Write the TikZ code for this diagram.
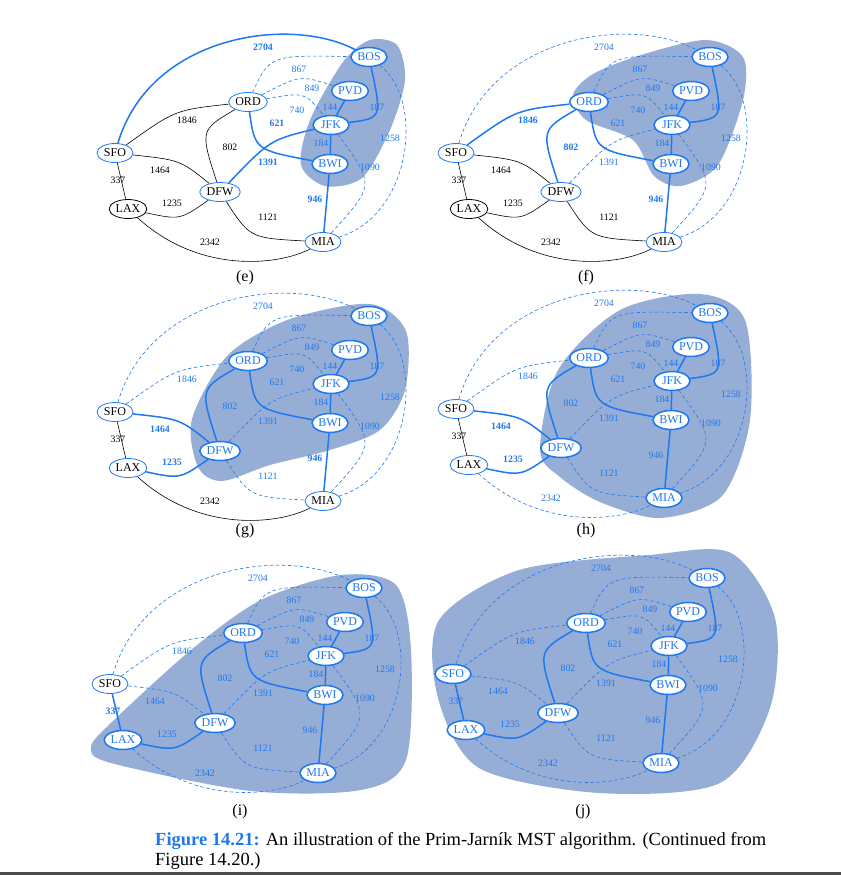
\documentclass[tikz,border=0pt]{standalone}
\usepackage{fontspec}
\setmainfont{Liberation Serif}
\usetikzlibrary{shapes.geometric}
\definecolor{mb}{RGB}{30,120,240}
\definecolor{cl}{RGB}{150,174,214}
\pgfdeclarelayer{back}\pgfdeclarelayer{mid}\pgfsetlayers{back,mid,main}
\tikzset{
 blk/.style={black,line width=0.6pt,every node/.style={text=black,font=\fontsize{9.8}{9.8}\selectfont}},
 tree/.style={mb,line width=1.5pt,every node/.style={text=mb,font=\fontsize{9.8}{9.8}\selectfont}},
 best/.style={mb,line width=1.5pt,every node/.style={text=mb,font=\fontsize{9.8}{9.8}\selectfont\bfseries}},
 dsh/.style={mb,line width=0.6pt,dash pattern=on 3.5pt off 2.5pt,every node/.style={text=mb,font=\fontsize{9.8}{9.8}\selectfont}},
 vb/.style={ellipse,draw,fill=white,inner sep=1pt,minimum width=36pt,minimum height=19pt,font=\fontsize{12}{12}\selectfont},
 nin/.style={vb,draw=mb,line width=1.5pt,text=mb},
 nfr/.style={vb,draw=mb,line width=0.8pt,text=black},
 nout/.style={vb,draw=black,line width=0.8pt,text=black},
 E2704/.style=blk,E1846/.style=blk,E1464/.style=blk,E337/.style=blk,E1235/.style=blk,E2342/.style=blk,
 E802/.style=blk,E1391/.style=blk,E1121/.style=blk,E867/.style=blk,E849/.style=blk,E740/.style=blk,
 E621/.style=blk,E144/.style=blk,E187/.style=blk,E184/.style=blk,E1090/.style=blk,E946/.style=blk,E1258/.style=blk,
 NSFO/.style=nout,NLAX/.style=nout,NDFW/.style=nout,NORD/.style=nout,NBOS/.style=nout,NPVD/.style=nout,NJFK/.style=nout,NBWI/.style=nout,NMIA/.style=nout,
 plab/.style={font=\fontsize{16}{16}\selectfont}
}
\newcommand\Gdraw[3]{%
\node[NSFO] (SFO) at (115,153) {SFO};
\node[NLAX] (LAX) at (128,209) {LAX};
\node[NDFW] (DFW) at (220,192) {DFW};
\node[NORD] (ORD) at (248,102) {ORD};
\node[NBOS] (BOS) at (369,57) {BOS};
\node[NPVD] (PVD) at (350,91) {PVD};
\node[NJFK] (JFK) at (331,125) {JFK};
\node[NBWI] (BWI) at (330,164) {BWI};
\node[NMIA] (MIA) at (323,242) {MIA};
\node[plab] (lab#1) at (245,#3) {(#1)};
\begin{pgfonlayer}{back}#2\end{pgfonlayer}
\begin{pgfonlayer}{mid}
\draw[E2704] (SFO) .. controls (150,35) and (290,15) .. (BOS) (263,47) node{2704};
\draw[E1846] (SFO) .. controls (175,110) .. (ORD) (187,120) node{1846};
\draw[E1464] (SFO) .. controls (180,160) .. (DFW) (160,170) node{1464};
\draw[E337] (SFO) -- (LAX) (118,180) node{337};
\draw[E1235] (LAX) .. controls (180,220) .. (DFW) (172,203) node{1235};
\draw[E2342] (LAX) .. controls (200,275) and (280,265) .. (MIA) (210,242) node{2342};
\draw[E802] (DFW) .. controls (200,130) .. (ORD) (230,147) node{802};
\draw[E1391] (DFW) .. controls (270,140) .. (JFK) (268,162) node{1391};
\draw[E1121] (DFW) .. controls (250,238) .. (MIA) (268,217) node{1121};
\draw[E867] (ORD) .. controls (270,55) .. (BOS) (299,69) node{867};
\draw[E849] (ORD) .. controls (300,75) .. (PVD) (312,88) node{849};
\draw[E740] (ORD) .. controls (305,92) .. (JFK) (297,110) node{740};
\draw[E621] (ORD) .. controls (255,150) .. (BWI) (277,123) node{621};
\draw[E144] (PVD) -- (JFK) (330,107) node{144};
\draw[E187] (BOS) .. controls (382,118) .. (JFK) (377,107) node{187};
\draw[E184] (JFK) -- (BWI) (321,143) node{184};
\draw[E1090] (JFK) .. controls (375,185) .. (MIA) (370,167) node{1090};
\draw[E946] (BWI) -- (MIA) (315,199) node{946};
\draw[E1258] (BOS) .. controls (425,100) and (412,215) .. (MIA) (390,138) node{1258};
\end{pgfonlayer}}
\newcommand\cloud[1]{\fill[cl] plot[smooth cycle] coordinates {#1};}
\begin{document}
\begin{tikzpicture}[x=1pt,y=-1pt]
\useasboundingbox (0,0) rectangle (841,875);
% (e)
\begin{scope}[E2704/.style=best,E621/.style=best,E1391/.style=best,E946/.style=best,
 E144/.style=tree,E187/.style=tree,E184/.style=tree,
 E867/.style=dsh,E849/.style=dsh,E740/.style=dsh,E1090/.style=dsh,E1258/.style=dsh,
 NBOS/.style=nin,NPVD/.style=nin,NJFK/.style=nin,NBWI/.style=nin,
 NSFO/.style=nfr,NORD/.style=nfr,NDFW/.style=nfr,NMIA/.style=nfr]
\Gdraw{e}{\cloud{(397,45) (405,80) (390,130) (362,178) (325,186) (301,165) (310,120) (343,62) (370,40)}}{278}
\end{scope}
% (f)
\begin{scope}[shift={(341,0)},E1846/.style=best,E802/.style=best,E946/.style=best,
 E144/.style=tree,E187/.style=tree,E184/.style=tree,E621/.style=tree,
 E2704/.style=dsh,E867/.style=dsh,E849/.style=dsh,E740/.style=dsh,E1391/.style=dsh,E1090/.style=dsh,E1258/.style=dsh,
 NORD/.style=nin,NBOS/.style=nin,NPVD/.style=nin,NJFK/.style=nin,NBWI/.style=nin,
 NSFO/.style=nfr,NDFW/.style=nfr,NMIA/.style=nfr]
\Gdraw{f}{\cloud{(232,95) (252,74) (300,55) (365,40) (402,57) (402,100) (377,165) (340,186) (313,176) (292,140) (245,120)}}{278}
\end{scope}
% (g)
\begin{scope}[shift={(0,259)},E1464/.style=best,E1235/.style=best,E946/.style=best,
 E144/.style=tree,E187/.style=tree,E184/.style=tree,E621/.style=tree,E802/.style=tree,
 E2704/.style=dsh,E1846/.style=dsh,E867/.style=dsh,E849/.style=dsh,E740/.style=dsh,E1391/.style=dsh,E1090/.style=dsh,E1258/.style=dsh,E1121/.style=dsh,
 NORD/.style=nin,NBOS/.style=nin,NPVD/.style=nin,NJFK/.style=nin,NBWI/.style=nin,NDFW/.style=nin,
 NSFO/.style=nfr,NLAX/.style=nfr,NMIA/.style=nfr]
\Gdraw{g}{\cloud{(198,208) (192,160) (228,96) (290,60) (370,45) (406,72) (405,131) (380,171) (330,191) (270,206) (222,222)}}{272}
\end{scope}
% (h)
\begin{scope}[shift={(341,256)},E1464/.style=best,E1235/.style=best,
 E144/.style=tree,E187/.style=tree,E184/.style=tree,E621/.style=tree,E802/.style=tree,E946/.style=tree,
 E2704/.style=dsh,E1846/.style=dsh,E867/.style=dsh,E849/.style=dsh,E740/.style=dsh,E1391/.style=dsh,E1090/.style=dsh,E1258/.style=dsh,E1121/.style=dsh,E2342/.style=dsh,
 NORD/.style=nin,NBOS/.style=nin,NPVD/.style=nin,NJFK/.style=nin,NBWI/.style=nin,NDFW/.style=nin,NMIA/.style=nin,
 NSFO/.style=nfr,NLAX/.style=nfr]
\Gdraw{h}{\cloud{(199,194) (217,114) (279,54) (359,38) (404,64) (409,164) (381,240) (319,262) (259,246) (219,221)}}{275}
\end{scope}
% (i)
\begin{scope}[shift={(-5,531)},E337/.style=best,
 E144/.style=tree,E187/.style=tree,E184/.style=tree,E621/.style=tree,E802/.style=tree,E946/.style=tree,E1235/.style=tree,
 E2704/.style=dsh,E1846/.style=dsh,E867/.style=dsh,E849/.style=dsh,E740/.style=dsh,E1391/.style=dsh,E1090/.style=dsh,E1258/.style=dsh,E1121/.style=dsh,E2342/.style=dsh,E1464/.style=dsh,
 NORD/.style=nin,NBOS/.style=nin,NPVD/.style=nin,NJFK/.style=nin,NBWI/.style=nin,NDFW/.style=nin,NMIA/.style=nin,NLAX/.style=nin,
 NSFO/.style=nfr]
\Gdraw{i}{\cloud{(96,216) (118,190) (196,119) (266,69) (346,44) (401,54) (416,119) (411,229) (366,259) (256,260) (116,232)}}{281}
\end{scope}
% (j)
\begin{scope}[shift={(338,521)},
 E144/.style=tree,E187/.style=tree,E184/.style=tree,E621/.style=tree,E802/.style=tree,E946/.style=tree,E1235/.style=tree,E337/.style=tree,
 E2704/.style=dsh,E1846/.style=dsh,E867/.style=dsh,E849/.style=dsh,E740/.style=dsh,E1391/.style=dsh,E1090/.style=dsh,E1258/.style=dsh,E1121/.style=dsh,E2342/.style=dsh,E1464/.style=dsh,
 NORD/.style=nin,NBOS/.style=nin,NPVD/.style=nin,NJFK/.style=nin,NBWI/.style=nin,NDFW/.style=nin,NMIA/.style=nin,NLAX/.style=nin,NSFO/.style=nin]
\Gdraw{j}{\cloud{(101,99) (181,49) (311,34) (393,32) (437,97) (432,187) (382,262) (261,272) (141,247) (100,177)}}{291}
\end{scope}
\node[anchor=base west,inner sep=0pt,font=\fontsize{18.5}{18.5}\selectfont] (cap) at (155,845)
 {\textcolor{mb}{\bfseries Figure 14.21:} An illustration of the Prim-Jarník MST algorithm. (Continued from};
\node[anchor=base west,inner sep=0pt,font=\fontsize{18.5}{18.5}\selectfont] (cap2) at (155,865) {Figure 14.20.)};
\fill[black!70] (0,872) rectangle (841,875);
\end{tikzpicture}
\end{document}
